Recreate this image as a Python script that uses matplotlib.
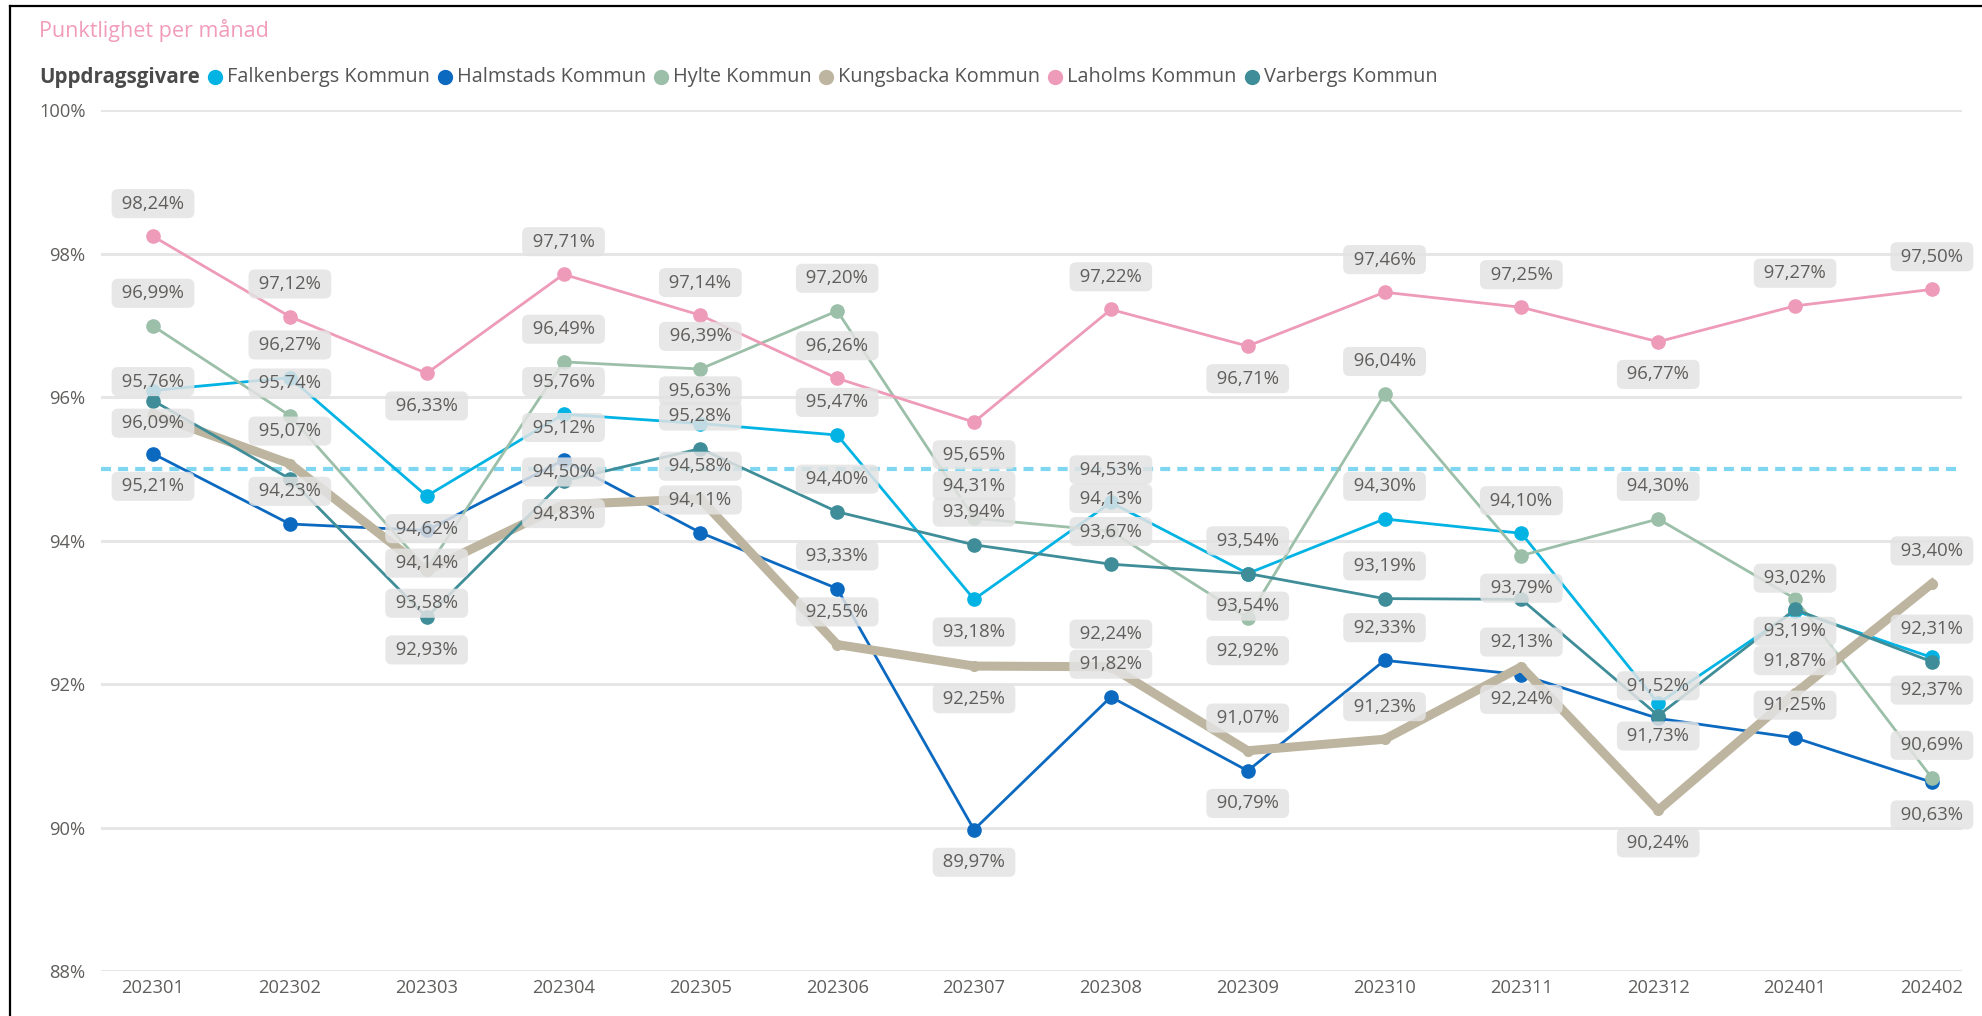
import numpy as np
import matplotlib
matplotlib.use('Agg')
import matplotlib.pyplot as plt
from matplotlib.lines import Line2D

plt.rcParams['font.family'] = ['Open Sans', 'DejaVu Sans']

months = ['202301', '202302', '202303', '202304', '202305', '202306', '202307',
          '202308', '202309', '202310', '202311', '202312', '202401', '202402']

names = ['Falkenbergs Kommun', 'Halmstads Kommun', 'Hylte Kommun',
         'Kungsbacka Kommun', 'Laholms Kommun', 'Varbergs Kommun']

falkenberg = [96.09, 96.27, 94.62, 95.76, 95.63, 95.47, 93.18, 94.53, 93.54, 94.30, 94.10, 91.73, 93.02, 92.37]
halmstad   = [95.21, 94.23, 94.14, 95.12, 94.11, 93.33, 89.97, 91.82, 90.79, 92.33, 92.13, 91.52, 91.25, 90.63]
hylte      = [96.99, 95.74, 93.60, 96.49, 96.39, 97.20, 94.31, 94.13, 92.92, 96.04, 93.79, 94.30, 93.19, 90.69]
kungsbacka = [95.76, 95.07, 93.58, 94.50, 94.58, 92.55, 92.25, 92.24, 91.07, 91.23, 92.24, 90.24, 91.87, 93.40]
laholm     = [98.24, 97.12, 96.33, 97.71, 97.14, 96.26, 95.65, 97.22, 96.71, 97.46, 97.25, 96.77, 97.27, 97.50]
varberg    = [95.95, 94.86, 92.93, 94.83, 95.28, 94.40, 93.94, 93.67, 93.54, 93.19, 93.18, 91.56, 93.04, 92.31]

target = 95.0

series = [falkenberg, halmstad, hylte, kungsbacka, laholm, varberg]
colors = ['#02B3E3', '#0C69C0', '#9BBFA8', '#BDB59F', '#EE9AB9', '#3E8D98']

# where Power BI put each data label: a = above, b = below, '-' = hidden
label_side = [
    'babaaabaaaabab',
    'babaaababaaaab',
    'aa-aaaaabababa',
    'aabaaabaaabbaa',
    'aabaaababaabaa',
    '--bbaaaaba---a',
]

W, H = 1982, 1016
fig = plt.figure(figsize=(W / 100, H / 100), dpi=100)
ax = fig.add_axes([101 / W, 1 - 971 / H, (1962 - 101) / W, (971 - 110) / H])

x = np.arange(len(months))
ax.set_xlim(-0.38, 13.22)
ax.set_ylim(88, 100)

ax.set_yticks(np.arange(88, 101, 2))
ax.set_yticklabels([f'{v}%' for v in range(88, 101, 2)])
ax.set_xticks(x)
ax.set_xticklabels(months)
ax.tick_params(length=0, labelsize=13.2, colors='#605E5C')
ax.tick_params(axis='y', pad=11)
ax.tick_params(axis='x', pad=6)
for s in ax.spines.values():
    s.set_visible(False)
ax.grid(axis='y', color='#E6E6E6', lw=2.2)
ax.set_axisbelow(True)

ax.axhline(target, color='#7ED6F0', lw=3, ls=(0, (2.4, 1.7)), zorder=1)

for k, (vals, c) in enumerate(zip(series, colors)):
    thick = names[k].startswith('Kungsbacka')
    ax.plot(x, vals, color=c, lw=6.5 if thick else 2, marker='o',
            ms=7 if thick else 9.5, solid_joinstyle='round', zorder=2 + k * 0.1)
    for i, v in enumerate(vals):
        side = label_side[k][i]
        if side == '-':
            continue
        txt = ' ' + f'{v:.2f}'.replace('.', ',') + '% '
        ax.annotate(txt, (i, v), xytext=(0, 23.5 if side == 'a' else -23.5),
                    textcoords='offset points', ha='center', va='center',
                    fontsize=13.3, color='#605E5C', zorder=5,
                    bbox=dict(boxstyle='round,pad=0.3,rounding_size=0.35',
                              fc='#E3E3E3', ec='none', alpha=0.85))

# title and legend row
fig.text(39 / W, 1 - 30 / H, 'Punktlighet per månad', color='#F19CBB',
         fontsize=15.5, va='center', ha='left')

renderer = fig.canvas.get_renderer()
ly = 1 - 77 / H
t = fig.text(39 / W, ly, 'Uppdragsgivare', fontweight='bold', color='#4A4A4A',
             fontsize=14.8, va='center', ha='left')
xpos = t.get_window_extent(renderer).x1
for name, c in zip(names, colors):
    dot = xpos + 15
    fig.add_artist(Line2D([dot / W], [ly], marker='o', ms=10, color=c,
                          transform=fig.transFigure))
    t = fig.text((dot + 12) / W, ly, name, color='#555555', fontsize=14.3,
                 va='center', ha='left')
    xpos = t.get_window_extent(renderer).x1

# card frame (top and left edge)
fig.add_artist(Line2D([10 / W, 10 / W], [0, 1 - 6 / H], color='black', lw=1.6,
                      transform=fig.transFigure))
fig.add_artist(Line2D([10 / W, 1], [1 - 6 / H, 1 - 6 / H], color='black', lw=1.6,
                      transform=fig.transFigure))

fig.savefig('out.png', dpi=100, facecolor='white')
